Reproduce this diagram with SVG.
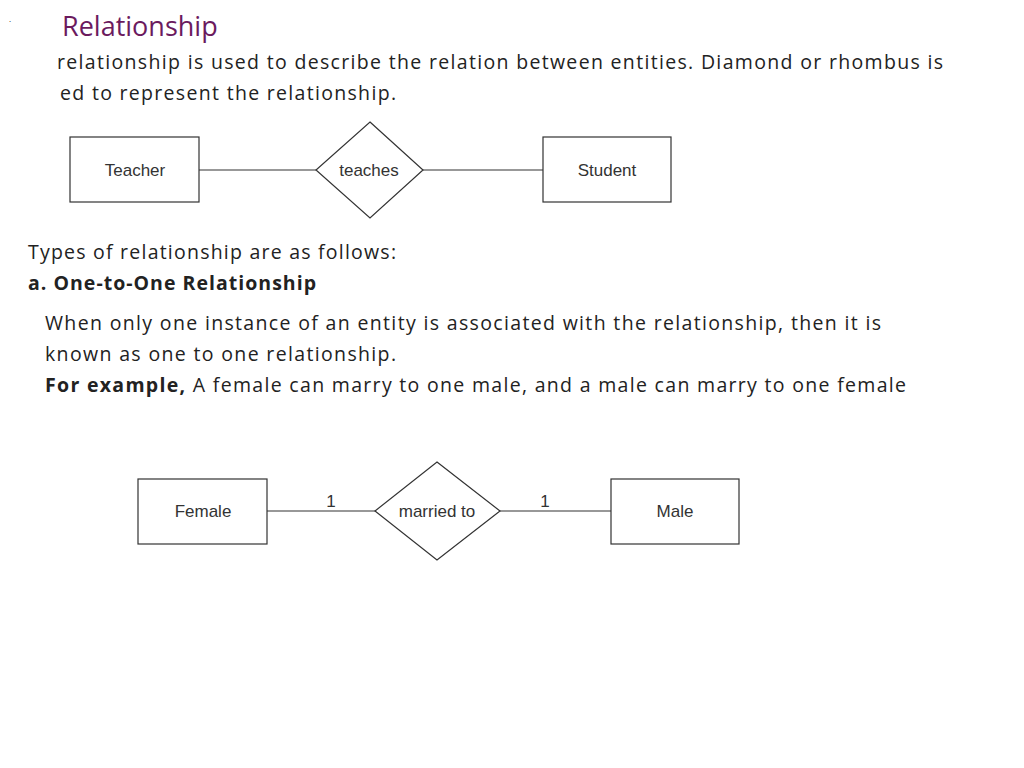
<svg xmlns="http://www.w3.org/2000/svg" width="1024" height="768" viewBox="0 0 1024 768">
<style>
.b{font-family:"Open Sans","Liberation Sans",Arial,sans-serif;font-size:19.5px;fill:#222}
.n{fill:#fff;stroke:#333;stroke-width:1.2}
.l{font-family:"Liberation Sans",Arial,sans-serif;font-size:17px;fill:#333;text-anchor:middle}
.c{stroke:#333;stroke-width:1.2;fill:none}
</style>
<rect width="1024" height="768" fill="#fff"/>
<text x="9" y="22" class="b" style="font-size:8px">.</text>
<text x="62" y="36" font-family="Open Sans,Liberation Sans,Arial,sans-serif" font-size="27" fill="#6b1a5e">Relationship</text>
<text x="57" y="69" class="b" textLength="886">relationship is used to describe the relation between entities. Diamond or rhombus is</text>
<text x="60" y="100" class="b" textLength="336">ed to represent the relationship.</text>
<text x="28" y="259" class="b" textLength="368">Types of relationship are as follows:</text>
<text x="28" y="290" class="b" font-weight="bold" textLength="288">a. One-to-One Relationship</text>
<text x="45" y="330" class="b" textLength="836">When only one instance of an entity is associated with the relationship, then it is</text>
<text x="45" y="361" class="b" textLength="351">known as one to one relationship.</text>
<text x="45" y="392" class="b" textLength="861"><tspan font-weight="bold">For example,</tspan> A female can marry to one male, and a male can marry to one female</text>
<g id="connectors">
<line class="c" x1="199" y1="170" x2="316" y2="170"/>
<line class="c" x1="423" y1="170" x2="543" y2="170"/>
<line class="c" x1="267" y1="511" x2="375" y2="511"/>
<line class="c" x1="500" y1="511" x2="611" y2="511"/>
<text class="l" x="331" y="507">1</text>
<text class="l" x="545" y="507">1</text>
</g>
<g id="teacher"><rect class="n" x="70" y="137" width="129" height="65"/><text class="l" x="135" y="176">Teacher</text></g>
<g id="teaches"><polygon class="n" points="370,122 423,170 370,218 316,170"/><text class="l" x="369" y="176">teaches</text></g>
<g id="student"><rect class="n" x="543" y="137" width="128" height="65"/><text class="l" x="607" y="176">Student</text></g>
<g id="female"><rect class="n" x="138" y="479" width="129" height="65"/><text class="l" x="203" y="517">Female</text></g>
<g id="married"><polygon class="n" points="437,462 500,511 437,560 375,511"/><text class="l" x="437" y="517">married to</text></g>
<g id="male"><rect class="n" x="611" y="479" width="128" height="65"/><text class="l" x="675" y="517">Male</text></g>
</svg>
